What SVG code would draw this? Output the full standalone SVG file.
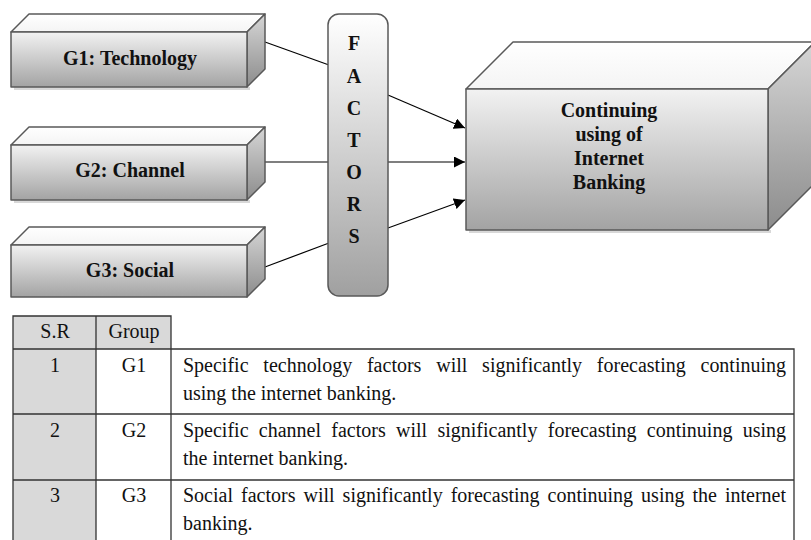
<svg xmlns="http://www.w3.org/2000/svg" width="811" height="540" viewBox="0 0 811 540">
<defs>
<linearGradient id="gFront" x1="0" y1="0" x2="0" y2="1"><stop offset="0" stop-color="#f2f2f2"/><stop offset="1" stop-color="#a3a3a3"/></linearGradient>
<linearGradient id="gTop" x1="0" y1="0" x2="0" y2="1"><stop offset="0" stop-color="#ffffff"/><stop offset="1" stop-color="#f4f4f4"/></linearGradient>
<linearGradient id="gSide" x1="0" y1="0" x2="0" y2="1"><stop offset="0" stop-color="#d6d6d6"/><stop offset="1" stop-color="#8c8c8c"/></linearGradient>
<linearGradient id="gFac" x1="0" y1="0" x2="0" y2="1"><stop offset="0" stop-color="#ffffff"/><stop offset="1" stop-color="#a0a0a0"/></linearGradient>
<marker id="arr" viewBox="0 0 10 10" refX="10" refY="5" markerWidth="11" markerHeight="11" markerUnits="userSpaceOnUse" orient="auto"><path d="M0,0 L10,5 L0,10 z" fill="#000"/></marker>
</defs>
<style>
.box{stroke:#595959;stroke-width:1.5;stroke-linejoin:round}
.shd{fill:#d8d8d8}
.lbl{font-family:"Liberation Serif","Times New Roman",serif;font-weight:bold;font-size:20px;fill:#111;text-anchor:middle}
.con{stroke:#000;stroke-width:1.2;fill:none}
.tb{font-family:"Liberation Serif","Times New Roman",serif;font-size:20px;fill:#111}
.c{text-anchor:middle}
.grid{stroke:#333;stroke-width:1.3;fill:none}
</style>
<rect width="811" height="540" fill="#fff"/>

<g id="connectors">
<line class="con" x1="265" y1="42" x2="329" y2="65"/>
<line class="con" x1="265" y1="162" x2="329" y2="162"/>
<line class="con" x1="265" y1="267" x2="329" y2="243"/>
<line class="con" x1="388" y1="95" x2="465" y2="128" marker-end="url(#arr)"/>
<line class="con" x1="388" y1="162" x2="465" y2="162" marker-end="url(#arr)"/>
<line class="con" x1="388" y1="228" x2="465" y2="200" marker-end="url(#arr)"/>
</g>

<g id="g1">
<rect class="shd" x="14" y="87" width="236" height="3"/>
<polygon class="box" fill="url(#gTop)" points="11,32 29,14 265,14 247,32"/>
<polygon class="box" fill="url(#gSide)" points="247,32 265,14 265,69 247,87"/>
<rect class="box" fill="url(#gFront)" x="11" y="32" width="236" height="55"/>
<text class="lbl" x="130" y="65">G1: Technology</text>
</g>

<g id="g2">
<rect class="shd" x="14" y="200" width="236" height="3"/>
<polygon class="box" fill="url(#gTop)" points="11,145 29,127 265,127 247,145"/>
<polygon class="box" fill="url(#gSide)" points="247,145 265,127 265,182 247,200"/>
<rect class="box" fill="url(#gFront)" x="11" y="145" width="236" height="55"/>
<text class="lbl" x="130" y="177">G2: Channel</text>
</g>

<g id="g3">
<polygon class="box" fill="url(#gTop)" points="11,245 29,227 265,227 247,245"/>
<polygon class="box" fill="url(#gSide)" points="247,245 265,227 265,279 247,297"/>
<rect class="box" fill="url(#gFront)" x="11" y="245" width="236" height="52"/>
<text class="lbl" x="130" y="277">G3: Social</text>
</g>

<g id="factors">
<rect class="box" fill="url(#gFac)" x="328" y="14" width="60" height="282" rx="11" ry="11"/>
<text class="lbl" x="354" y="50">F</text>
<text class="lbl" x="354" y="83">A</text>
<text class="lbl" x="354" y="115">C</text>
<text class="lbl" x="354" y="147">T</text>
<text class="lbl" x="354" y="179">O</text>
<text class="lbl" x="354" y="211">R</text>
<text class="lbl" x="354" y="243">S</text>
</g>

<g id="outcome">
<rect class="shd" x="469" y="230" width="302" height="3"/>
<polygon class="box" fill="url(#gTop)" points="466,89 513,42 815,42 768,89"/>
<polygon class="box" fill="url(#gSide)" points="768,89 815,42 815,183 768,230"/>
<rect class="box" fill="url(#gFront)" x="466" y="89" width="302" height="141"/>
<text class="lbl" x="609" y="117">Continuing</text>
<text class="lbl" x="609" y="141">using of</text>
<text class="lbl" x="609" y="165">Internet</text>
<text class="lbl" x="609" y="189">Banking</text>
</g>

<g id="table">
<rect x="13" y="316" width="83" height="224" fill="#d9d9d9"/>
<rect x="96" y="316" width="75" height="33" fill="#d9d9d9"/>
<path class="grid" d="M13,540 V316 H171 V540 M96,316 V540 M13,349 H794 V540 M13,414 H794 M13,480 H794"/>
<text class="tb c" x="55" y="338">S.R</text>
<text class="tb c" x="134" y="338">Group</text>
<text class="tb c" x="55" y="372">1</text>
<text class="tb c" x="134" y="372">G1</text>
<text class="tb" x="183" y="372" word-spacing="9.8" textLength="603" lengthAdjust="spacing">Specific technology factors will significantly forecasting continuing</text>
<text class="tb" x="183" y="400">using the internet banking.</text>
<text class="tb c" x="55" y="437">2</text>
<text class="tb c" x="134" y="437">G2</text>
<text class="tb" x="183" y="437" word-spacing="5.3" textLength="603" lengthAdjust="spacing">Specific channel factors will significantly forecasting continuing using</text>
<text class="tb" x="183" y="465">the internet banking.</text>
<text class="tb c" x="55" y="502">3</text>
<text class="tb c" x="134" y="502">G3</text>
<text class="tb" x="183" y="502" word-spacing="3" textLength="603" lengthAdjust="spacing">Social factors will significantly forecasting continuing using the internet</text>
<text class="tb" x="183" y="530">banking.</text>
</g>
</svg>
